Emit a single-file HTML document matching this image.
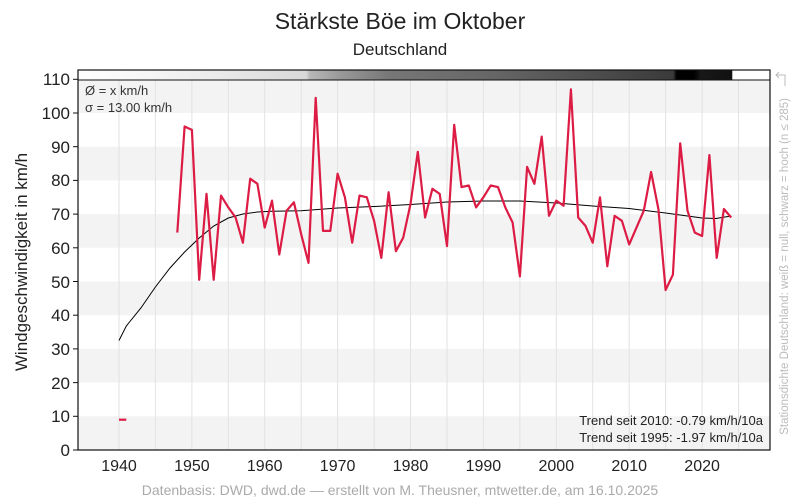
<!DOCTYPE html>
<html><head><meta charset="utf-8"><style>
body{margin:0;background:#fff;}
svg{display:block;font-family:"Liberation Sans",sans-serif;}
</style></head><body>
<svg width="800" height="500" xmlns="http://www.w3.org/2000/svg">
<defs>
<linearGradient id="dens" x1="78" x2="770" y1="0" y2="0" gradientUnits="userSpaceOnUse">
<stop offset="0" stop-color="#fff"/>
<stop offset="0.1" stop-color="#f6f6f6"/>
<stop offset="0.22" stop-color="#e8e8e8"/>
<stop offset="0.33" stop-color="#d8d8d8"/>
<stop offset="0.335" stop-color="#b8b8b8"/>
<stop offset="0.38" stop-color="#999"/>
<stop offset="0.45" stop-color="#777"/>
<stop offset="0.6" stop-color="#666"/>
<stop offset="0.7" stop-color="#555"/>
<stop offset="0.8" stop-color="#444"/>
<stop offset="0.86" stop-color="#3a3a3a"/>
<stop offset="0.865" stop-color="#000"/>
<stop offset="0.89" stop-color="#000"/>
<stop offset="0.9" stop-color="#181818"/>
<stop offset="0.945" stop-color="#111"/>
<stop offset="0.946" stop-color="#fff"/>
<stop offset="1" stop-color="#fff"/>
</linearGradient>
</defs>
<text x="400" y="29" font-size="23" text-anchor="middle" fill="#222">Stärkste Böe im Oktober</text>
<text x="400" y="55" font-size="17" text-anchor="middle" fill="#222">Deutschland</text>
<g fill="#f3f3f3">
<rect x="78" y="416.3" width="692" height="33.7"/>
<rect x="78" y="348.9" width="692" height="33.7"/>
<rect x="78" y="281.5" width="692" height="33.7"/>
<rect x="78" y="214.1" width="692" height="33.7"/>
<rect x="78" y="146.7" width="692" height="33.7"/>
<rect x="78" y="80" width="692" height="33"/>
</g>
<g stroke="#e2e2e2" stroke-width="1">
<line x1="155.4" y1="80" x2="155.4" y2="450"/><line x1="191.9" y1="80" x2="191.9" y2="450"/><line x1="228.3" y1="80" x2="228.3" y2="450"/><line x1="264.7" y1="80" x2="264.7" y2="450"/><line x1="301.2" y1="80" x2="301.2" y2="450"/><line x1="337.6" y1="80" x2="337.6" y2="450"/><line x1="374.1" y1="80" x2="374.1" y2="450"/><line x1="410.5" y1="80" x2="410.5" y2="450"/><line x1="447" y1="80" x2="447" y2="450"/><line x1="483.4" y1="80" x2="483.4" y2="450"/><line x1="519.9" y1="80" x2="519.9" y2="450"/><line x1="556.3" y1="80" x2="556.3" y2="450"/><line x1="592.7" y1="80" x2="592.7" y2="450"/><line x1="629.2" y1="80" x2="629.2" y2="450"/><line x1="665.6" y1="80" x2="665.6" y2="450"/><line x1="702.1" y1="80" x2="702.1" y2="450"/><line x1="738.5" y1="80" x2="738.5" y2="450"/><line x1="119" y1="80" x2="119" y2="450"/>
</g>
<rect x="78" y="70" width="692" height="10" fill="url(#dens)"/>
<rect x="78" y="70" width="692" height="380" fill="none" stroke="#111" stroke-width="1.2"/>
<line x1="78" y1="80" x2="770" y2="80" stroke="#111" stroke-width="1"/>
<polyline fill="none" stroke="#000" stroke-width="1" points="119,340.5 126.3,326 140.9,308 155.4,287 170,268 184.6,252 199.2,238 213.7,226 228.3,218 242.9,214 257.4,212 272,211.3 301.2,210.8 337.6,208 374.1,206.5 410.5,204.5 447,202 483.4,201 519.9,201 556.3,203 592.7,206 629.2,208.5 665.6,213 702.1,218 716,218.5 731,216"/>
<polyline fill="none" stroke="#dc1c44" stroke-width="2.2" stroke-linejoin="round" points="119,419.7 126.3,419.7"/>
<polyline fill="none" stroke="#dc1c44" stroke-width="2.2" stroke-linejoin="round" points="177.3,232.6 184.6,126.5 191.9,129.9 199.2,279.8 206.5,193.9 213.7,279.8 221,195.6 228.3,207.4 235.6,217.5 242.9,242.7 250.2,178.7 257.4,183.8 264.7,227.6 272,200.6 279.3,254.5 286.6,210.7 293.9,202.3 301.2,234.3 308.5,262.9 315.7,97.8 323,230.9 330.3,230.9 337.6,173.7 344.9,197.3 352.2,242.7 359.5,195.6 366.8,197.3 374.1,220.8 381.3,257.9 388.6,192.2 395.9,251.2 403.2,237.7 410.5,204 417.8,151.8 425.1,217.5 432.4,188.8 439.7,193.9 447,246.1 454.2,124.8 461.5,187.1 468.8,185.5 476.1,207.4 483.4,197.3 490.7,185.5 498,187.1 505.3,207.4 512.6,222.5 519.9,276.4 527.1,166.9 534.4,183.8 541.7,136.6 549,215.8 556.3,200.6 563.6,205.7 570.9,89.4 578.2,217.5 585.5,225.9 592.7,242.7 600,197.3 607.3,266.3 614.6,215.8 621.9,220.8 629.2,244.4 636.5,227.6 643.8,210.7 651.1,172 658.4,209 665.6,290 672.9,274.7 680.2,143.3 687.5,210.7 694.8,232.6 702.1,236 709.4,155.1 716.7,257.9 723.9,209 731.2,217.5"/>
<g stroke="#111" stroke-width="1">
<line x1="73" y1="450" x2="78" y2="450"/><line x1="73" y1="416.3" x2="78" y2="416.3"/><line x1="73" y1="382.6" x2="78" y2="382.6"/><line x1="73" y1="348.9" x2="78" y2="348.9"/><line x1="73" y1="315.2" x2="78" y2="315.2"/><line x1="73" y1="281.5" x2="78" y2="281.5"/><line x1="73" y1="247.8" x2="78" y2="247.8"/><line x1="73" y1="214.1" x2="78" y2="214.1"/><line x1="73" y1="180.4" x2="78" y2="180.4"/><line x1="73" y1="146.7" x2="78" y2="146.7"/><line x1="73" y1="113" x2="78" y2="113"/><line x1="73" y1="79.3" x2="78" y2="79.3"/>
</g>
<g font-size="17" fill="#222" text-anchor="end">
<text x="70" y="456">0</text><text x="70" y="422">10</text><text x="70" y="389">20</text><text x="70" y="355">30</text><text x="70" y="321">40</text><text x="70" y="288">50</text><text x="70" y="254">60</text><text x="70" y="220">70</text><text x="70" y="186">80</text><text x="70" y="153">90</text><text x="70" y="119">100</text><text x="70" y="85">110</text>
</g>
<g font-size="16" fill="#222" text-anchor="middle">
<text x="119" y="471">1940</text><text x="191.9" y="471">1950</text><text x="264.7" y="471">1960</text><text x="337.6" y="471">1970</text><text x="410.5" y="471">1980</text><text x="483.4" y="471">1990</text><text x="556.3" y="471">2000</text><text x="629.2" y="471">2010</text><text x="702.1" y="471">2020</text>
</g>
<text transform="translate(27,262) rotate(-90)" font-size="17" fill="#222" text-anchor="middle">Windgeschwindigkeit in km/h</text>
<text x="85" y="95" font-size="13" fill="#333">Ø = x km/h</text>
<text x="85" y="112" font-size="13" fill="#333">σ = 13.00 km/h</text>
<text x="763" y="425" font-size="13" fill="#222" text-anchor="end">Trend seit 2010: -0.79 km/h/10a</text>
<text x="763" y="442" font-size="13" fill="#222" text-anchor="end">Trend seit 1995: -1.97 km/h/10a</text>
<text transform="translate(788,98) rotate(-90)" font-size="11.5" fill="#bbb" text-anchor="end">Stationsdichte Deutschland: weiß = null, schwarz = hoch (n ≤ 285)</text>
<path d="M785,86 L785,75 L776,75 M779,72 L776,75 L779,78" fill="none" stroke="#bbb" stroke-width="1"/>
<text x="400" y="495" font-size="14" fill="#aaa" text-anchor="middle">Datenbasis: DWD, dwd.de — erstellt von M. Theusner, mtwetter.de, am 16.10.2025</text>
</svg>
</body></html>
